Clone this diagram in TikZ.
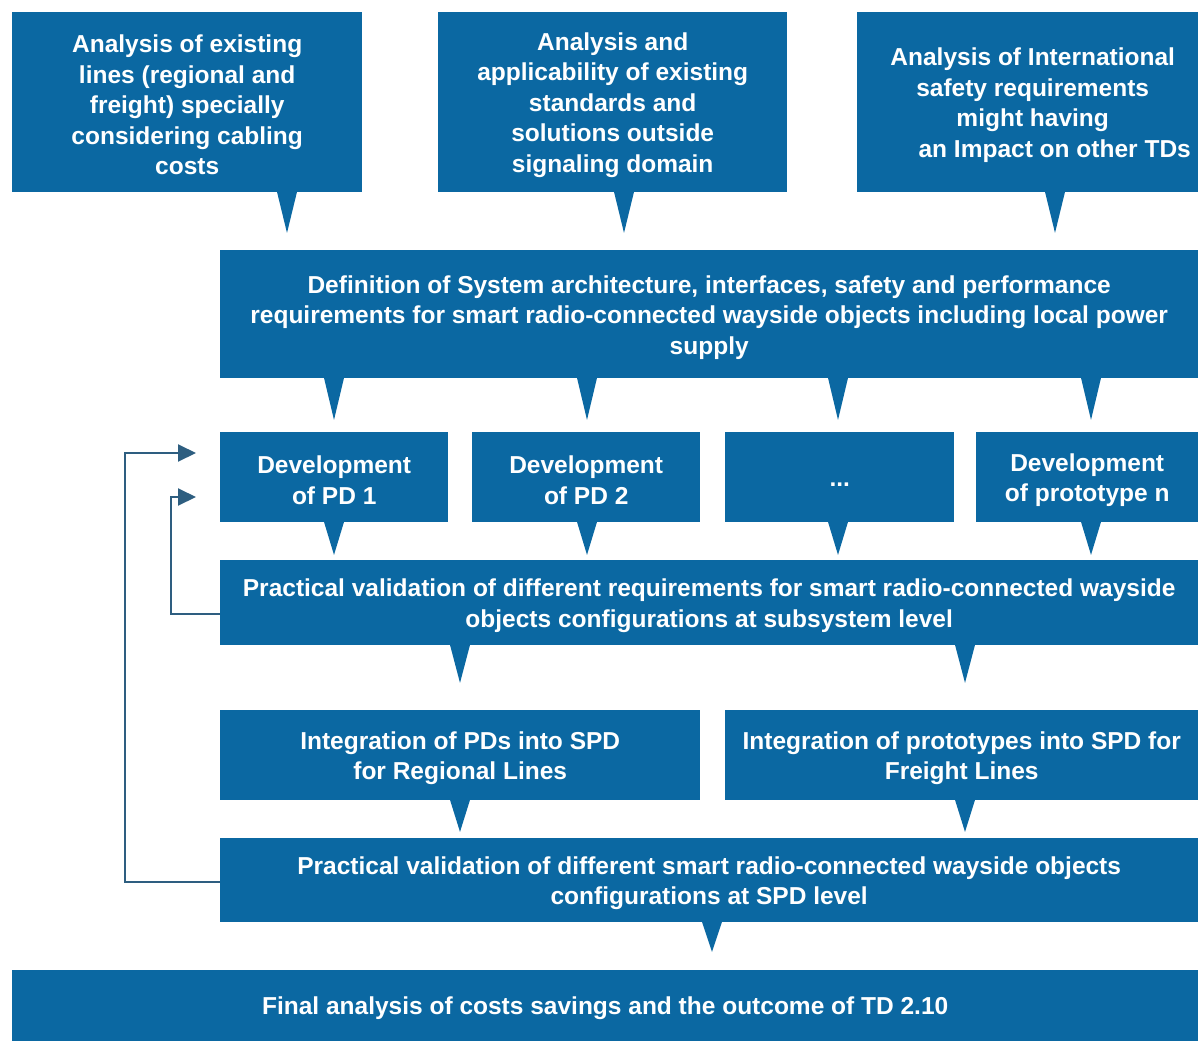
\documentclass[tikz,border=0pt]{standalone}
\usepackage{fontspec}
\setmainfont{Liberation Sans}
\usetikzlibrary{arrows.meta}
\definecolor{boxc}{HTML}{0B68A2}
\definecolor{linec}{HTML}{2E5E80}
\newcommand\callout[3]{\fill[boxc] ([xshift=#2pt,yshift=0.5pt]#1.south west) -- ++(20,0) -- ++(-10,#3) -- cycle;}
\begin{document}
\begin{tikzpicture}[x=1pt,y=-1pt,
  box/.style={fill=boxc, inner sep=0pt, anchor=north west},
  txt/.style={text=white, font=\bfseries\fontsize{24.5}{30.5}\selectfont, align=center, inner sep=0pt, yshift=-3pt},
  fb/.style={draw=linec, line width=2pt, -{Triangle[length=18pt,width=17pt]}}]
\fill[white] (0,0) rectangle (1198,1041);
\useasboundingbox (0,0) rectangle (1198,1041);
% top row
\node[box, minimum width=350pt, minimum height=180pt,
  label={[txt]center:{Analysis of existing\\lines (regional and\\freight) specially\\considering cabling\\costs}}] (A) at (12,12) {};
\node[box, minimum width=349pt, minimum height=180pt,
  label={[txt]center:{Analysis and\\applicability of existing\\standards and\\solutions outside\\signaling domain}}] (B) at (438,12) {};
\node[box, minimum width=341pt, minimum height=180pt,
  label={[txt, xshift=5pt]center:{Analysis of International\\safety requirements\\might having\hspace*{20pt}\\\hspace*{44pt}an Impact on other TDs}}] (C) at (857,12) {};
% definition
\node[box, minimum width=978pt, minimum height=128pt,
  label={[txt]center:{Definition of System architecture, interfaces, safety and performance\\requirements for smart radio-connected wayside objects including local power\\supply}}] (D) at (220,250) {};
% development row
\node[box, minimum width=228pt, minimum height=90pt,
  label={[txt]center:{Development\\of PD 1}}] (P1) at (220,432) {};
\node[box, minimum width=228pt, minimum height=90pt,
  label={[txt]center:{Development\\of PD 2}}] (P2) at (472,432) {};
\node[box, minimum width=229pt, minimum height=90pt,
  label={[txt, yshift=-4pt]center:{...}}] (P3) at (725,432) {};
\node[box, minimum width=222pt, minimum height=90pt,
  label={[txt]center:{Development\\of prototype n}}] (P4) at (976,432) {};
% validation 1
\node[box, minimum width=978pt, minimum height=85pt,
  label={[txt]center:{Practical validation of different requirements for smart radio-connected wayside\\objects configurations at subsystem level}}] (V1) at (220,560) {};
% integration
\node[box, minimum width=480pt, minimum height=90pt,
  label={[txt]center:{Integration of PDs into SPD\\for Regional Lines}}] (I1) at (220,710) {};
\node[box, minimum width=473pt, minimum height=90pt,
  label={[txt]center:{Integration of prototypes into SPD for\\Freight Lines}}] (I2) at (725,710) {};
% validation 2
\node[box, minimum width=978pt, minimum height=84pt,
  label={[txt]center:{Practical validation of different smart radio-connected wayside objects\\configurations at SPD level}}] (V2) at (220,838) {};
% final
\node[box, minimum width=1186pt, minimum height=71pt,
  label={[txt]center:{Final analysis of costs savings and the outcome of TD 2.10}}] (F) at (12,970) {};
% pointers
\callout{A}{265}{41}
\callout{B}{176}{41}
\callout{C}{188}{41}
\callout{D}{104}{42}
\callout{D}{357}{42}
\callout{D}{608}{42}
\callout{D}{861}{42}
\callout{P1}{104}{33}
\callout{P2}{105}{33}
\callout{P3}{103}{33}
\callout{P4}{105}{33}
\callout{V1}{230}{38}
\callout{V1}{735}{38}
\callout{I1}{230}{32}
\callout{I2}{230}{32}
\callout{V2}{482}{30}
% feedback loops
\coordinate (t1) at (196,453);
\coordinate (t2) at (196,497);
\draw[fb] ([yshift=-2pt]V2.west) -- ++(-95,0) |- (t1);
\draw[fb] ([yshift=-11pt]V1.west) -- ++(-49,0) |- (t2);
\end{tikzpicture}
\end{document}
